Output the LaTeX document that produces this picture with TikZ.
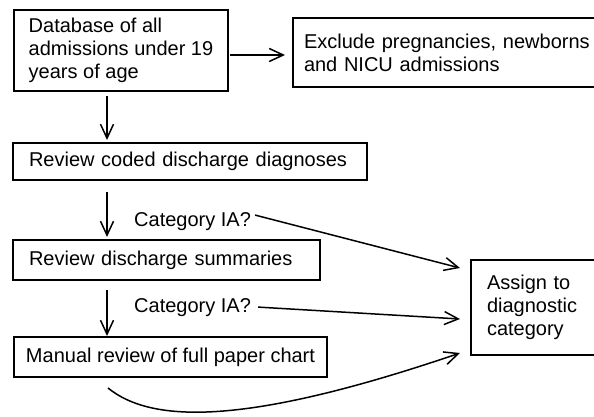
\documentclass[tikz,border=0pt]{standalone}
\usepackage{fontspec}
\setmainfont{Liberation Sans}
\usetikzlibrary{arrows.meta,calc}
\begin{document}
\begin{tikzpicture}[x=1pt,y=-1pt,
  txt/.style={font=\fontsize{20}{23}\selectfont},
  box/.style={draw,line width=1.5pt,anchor=north west,outer sep=0pt,align=left,inner ysep=0pt,txt},
  lab/.style={inner sep=1pt,anchor=base west,txt},
  arr/.style={line width=1.5pt,-{Straight Barb[length=14pt,width=13pt,line width=1.5pt]}},
]
\fill[white] (0,0) rectangle (594,417);
\useasboundingbox (0,0) rectangle (594,417);
\clip (0,0) rectangle (594,417);

\node[box,minimum width=214pt,inner xsep=4pt,minimum height=81pt] (db) at (14,10)
  {Database of all\\admissions under 19\\years of age};
\node[box,text width=290pt,inner xsep=11pt,minimum height=69pt] (excl) at (293,18)
  {Exclude pregnancies, newborns\\and NICU admissions};
\node[box,text width=322pt,inner xsep=16pt,minimum height=37pt] (coded) at (13,143)
  {Review coded discharge diagnoses};
\node[box,text width=275pt,inner xsep=16pt,minimum height=40pt] (summ) at (13,240)
  {Review discharge summaries};
\node[box,minimum width=313pt,inner xsep=4pt,minimum height=40pt] (manual) at (14,337)
  {Manual review of full paper chart};
\node[box,text width=110pt,inner xsep=16pt,minimum height=95pt] (assign) at (471,260)
  {Assign to\\diagnostic\\category};

\node[lab] (q1) at (133,226) {Category IA?};
\node[lab] (q2) at (133,312) {Category IA?};

\draw[arr] ($(db.north east)+(2,45)$) -- ($(excl.north west)+(-8,37)$);
\draw[arr] ($(db.south west)+(93,5)$) -- ($(coded.north west)+(94,-3)$);
\draw[arr] ($(coded.south west)+(94,12)$) -- ($(summ.north west)+(94,-3)$);
\draw[arr] ($(summ.south west)+(94,10)$) -- ($(manual.north west)+(93,-1)$);

\draw[arr] ($(q1.east)+(3,-6)$) -- ($(assign.north west)+(-11,8)$);
\draw[arr] ($(q2.east)+(6,0)$) -- ($(assign.north west)+(-11,59)$);
\draw[arr] ($(manual.south west)+(94,11)$) .. controls (150,422) and (240,428) .. ($(assign.south west)+(-11,-2)$);
\end{tikzpicture}
\end{document}
